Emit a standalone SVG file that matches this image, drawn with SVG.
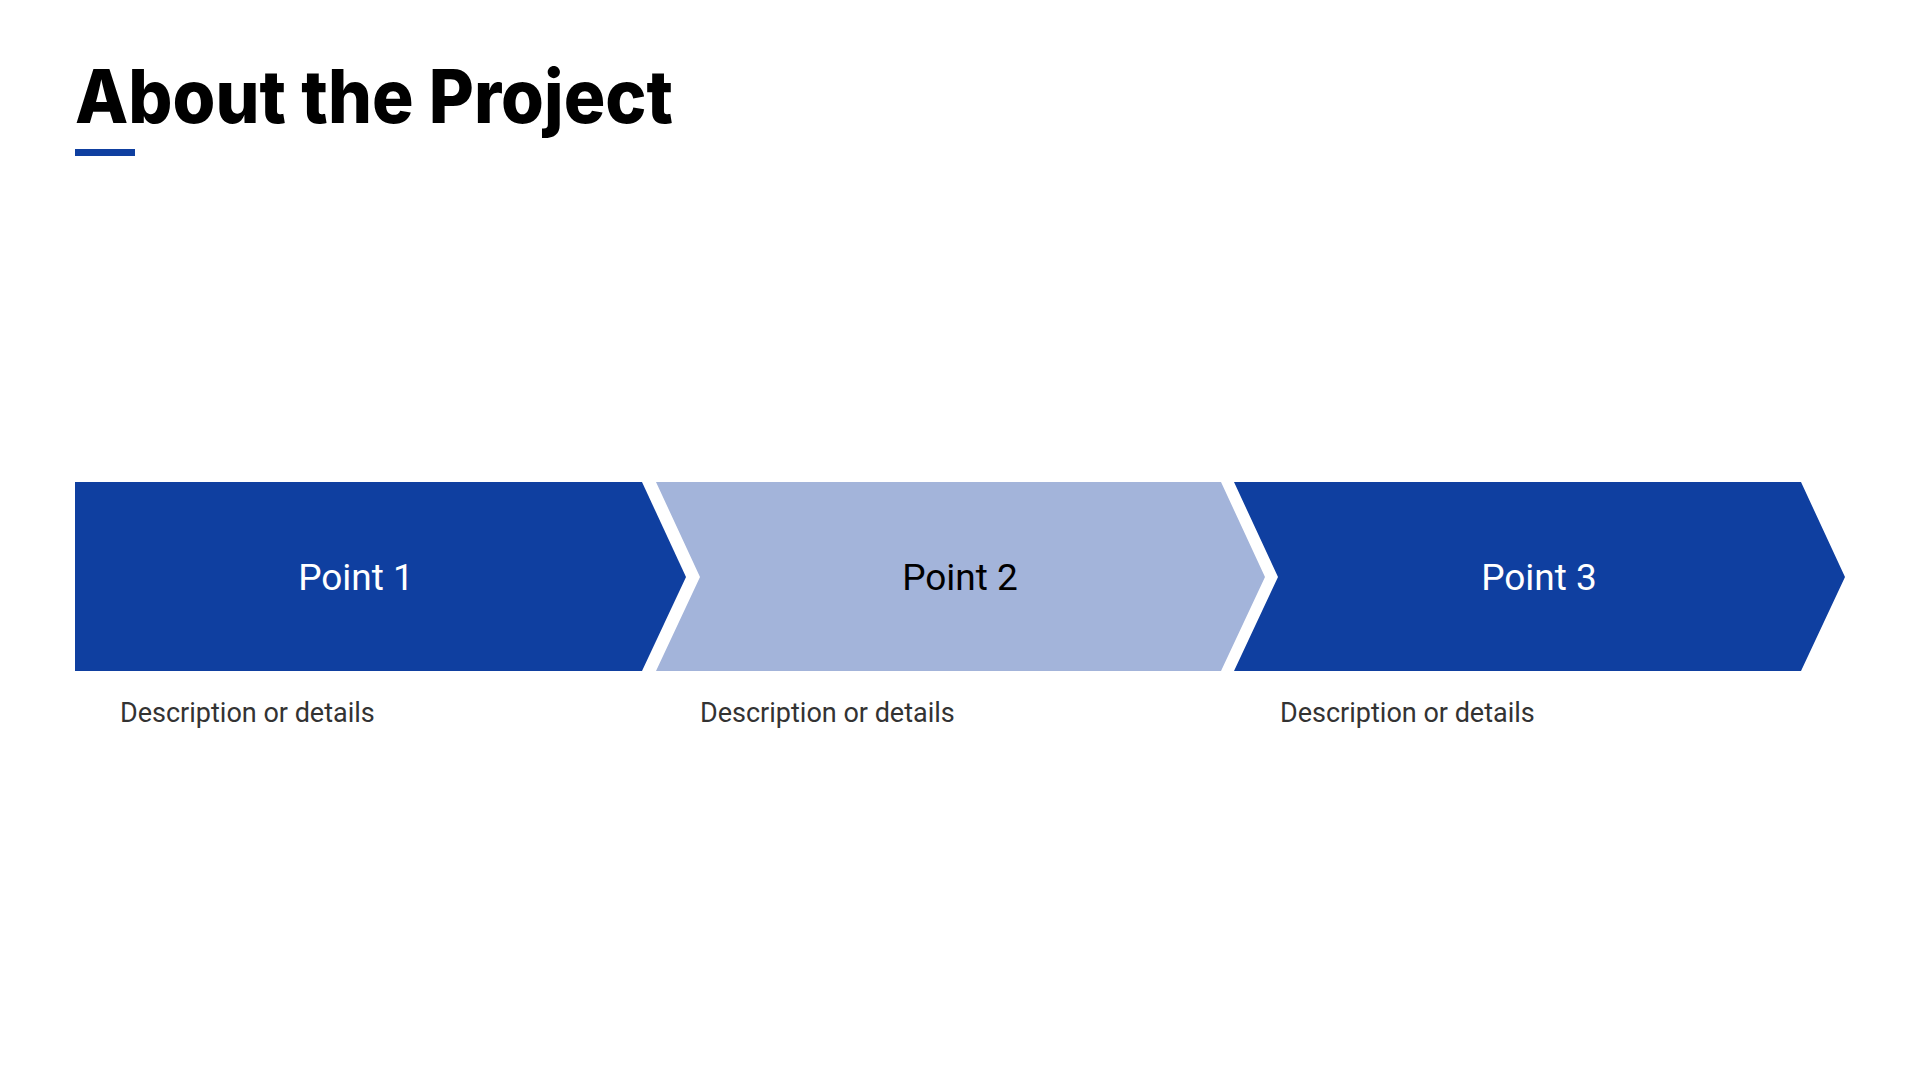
<svg xmlns="http://www.w3.org/2000/svg" width="1920" height="1080" viewBox="0 0 1920 1080">
<style>
.lbl{font-family:Roboto,"Liberation Sans",sans-serif;font-size:37px;text-anchor:middle}
.desc{font-family:Roboto,"Liberation Sans",sans-serif;font-size:27px;fill:#333}
.dark{fill:#0f3fa0}
.light{fill:#a3b4da}
</style>
<rect width="1920" height="1080" fill="#fff"/>
<g id="title">
<text x="75" y="123" font-family="Inter,'Liberation Sans',sans-serif" font-weight="800" font-size="74" fill="#000" textLength="598" lengthAdjust="spacingAndGlyphs">About the Project</text>
<rect x="75" y="149" width="60" height="7" class="dark"/>
</g>
<g id="point1">
<polygon class="dark" points="75,482 642,482 686,577 642,671 75,671"/>
<text class="lbl" x="356" y="590" fill="#fff">Point 1</text>
<text class="desc" x="120" y="722">Description or details</text>
</g>
<g id="point2">
<polygon class="light" points="656,482 1221,482 1265,577 1221,671 656,671 700,577"/>
<text class="lbl" x="960" y="590" fill="#000">Point 2</text>
<text class="desc" x="700" y="722">Description or details</text>
</g>
<g id="point3">
<polygon class="dark" points="1234,482 1801,482 1845,577 1801,671 1234,671 1278,577"/>
<text class="lbl" x="1539" y="590" fill="#fff">Point 3</text>
<text class="desc" x="1280" y="722">Description or details</text>
</g>
<g id="connectors"/>
</svg>
